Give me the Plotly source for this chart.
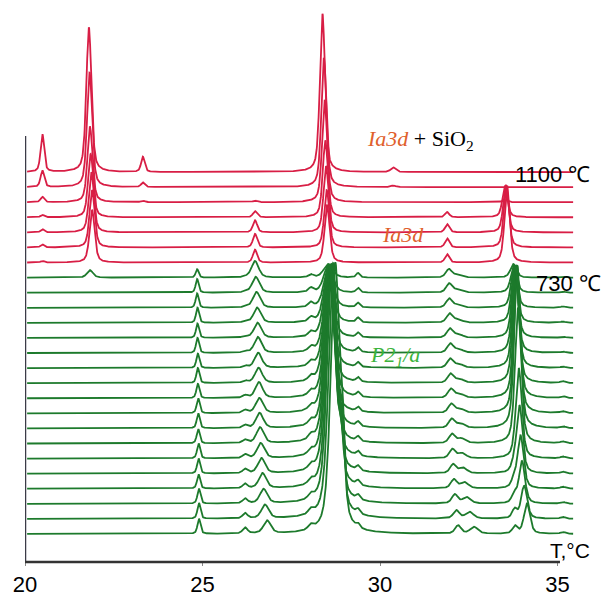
import numpy as np
import plotly.graph_objects as go

# ---------------- data ----------------
# scan range (axis units)
x_start, x_end = 20.06, 35.44
tick_vals = [20, 25, 30, 35]
tick_text = ["20", "25", "30", "35"]

# Green patterns (P2_1/a), bottom (index 0) -> top (730 °C, index 17)
# each reflection: centres, heights (in units of one trace step), half width
g_2183_c = [21.83] * 18
g_2183_h = [0] * 17 + [0.5]
g_2183_w = 0.10

g_2487_c = [24.90, 24.90, 24.90, 24.89, 24.89, 24.89, 24.88, 24.88, 24.88,
            24.87, 24.87, 24.87, 24.86, 24.86, 24.86, 24.85, 24.85, 24.85]
g_2487_h = [1.0, 1.05, 1.0, 0.95, 1.0, 1.0, 0.95, 1.0, 1.0,
            0.95, 1.0, 0.95, 1.0, 0.95, 1.0, 0.95, 0.9, 0.55]
g_2487_w = 0.05

g_2620_c = [26.20] * 18
g_2620_h = [0.4, 0.35, 0.32, 0.3, 0.28, 0.25, 0.22, 0.2, 0.2,
            0.18, 0.15, 0.14, 0.12, 0.1, 0.08, 0.06, 0.05, 0.04]
g_2620_w = 0.08

g_265_c = [26.82, 26.76, 26.72, 26.69, 26.66, 26.64, 26.62, 26.61, 26.60,
           26.59, 26.58, 26.57, 26.56, 26.55, 26.54, 26.52, 26.50, 26.48]
g_265_h = [0.85, 0.9, 0.95, 1.0, 1.0, 1.0, 1.05, 1.0, 1.0,
           1.05, 1.0, 1.0, 1.05, 1.0, 1.0, 1.05, 1.05, 1.1]
g_265_w = 0.12

g_2805_c = [28.05] * 18
g_2805_h = [0.3] * 17 + [0.2]
g_2805_w = 0.08

g_main_c = [28.74, 28.68, 28.64, 28.62, 28.60, 28.59, 28.58, 28.58, 28.57,
            28.57, 28.56, 28.56, 28.56, 28.55, 28.55, 28.55, 28.54, 28.54]
g_main_h = [17.8, 16.8, 15.8, 14.8, 13.8, 12.8, 11.8, 10.8, 9.8,
            8.8, 7.8, 6.8, 5.8, 4.8, 3.8, 2.8, 1.8, 0.9]
g_main_w = 0.15

g_289_c = [28.95, 28.93, 28.92, 28.90, 28.89, 28.88, 28.87, 28.86, 28.86,
           28.86, 28.86, 28.86, 28.86, 28.86, 28.86, 28.86, 28.86, 28.86]
g_289_h = [4.0, 4.5, 4.0, 3.0, 2.0, 1.2, 0.8, 0.5] + [0] * 10
g_289_w = 0.07

g_2938_c = [29.38] * 18
g_2938_h = [0.25] + [0.3] * 17
g_2938_w = 0.06

g_32a_c = [32.20, 32.15, 32.11, 32.08, 32.06, 32.04, 32.03, 32.02, 32.01,
           32.00, 31.99, 31.98, 31.98, 31.97, 31.96, 31.95, 31.95, 31.94]
g_32a_h = [0.55, 0.55] + [0.6] * 15 + [0.55]
g_32a_w = 0.10

g_32b_c = [32.65, 32.52, 32.44, 32.38, 32.34, 32.31, 32.29, 32.27, 32.26,
           32.25, 32.24, 32.23, 32.22, 32.21, 32.20, 32.20, 32.19, 32.18]
g_32b_h = [0.45, 0.45, 0.42, 0.4, 0.36, 0.33, 0.3, 0.3, 0.28,
           0.27, 0.26, 0.25, 0.24, 0.23, 0.22, 0.2, 0.2, 0.18]
g_32b_w = 0.13

g_34_c = [34.14, 34.06, 34.00, 33.96, 33.93, 33.91, 33.89, 33.87, 33.86,
          33.85, 33.83, 33.82, 33.81, 33.80, 33.79, 33.78, 33.77, 33.76]
g_34_h = [2.0, 2.2, 2.8, 3.5, 4.5, 6.0, 9.0, 10.8, 9.8,
          8.8, 7.8, 6.8, 5.8, 4.8, 3.8, 2.8, 1.8, 0.9]
g_34_w = 0.10

g_338_c = [33.80, 33.79, 33.78, 33.77, 33.76] + [33.75] * 13
g_338_h = [0.5, 0.6, 0.6, 0.5, 0.4] + [0] * 13
g_338_w = 0.08

g_3515_c = [35.15] * 18
g_3515_h = [0.12] * 11 + [0.08] * 7
g_3515_w = 0.08

# Red patterns (Ia3d), bottom (index 0) -> top (1100 °C, index 6)
r_2049_c = [20.49] * 7
r_2049_h = [0.1, 0.2, 0.2, 0.15, 0.35, 1.1, 2.5]
r_2049_w = 0.06

r_218_c = [21.89, 21.89, 21.87, 21.85, 21.83, 21.82, 21.80]
r_218_h = [3.5, 3.8, 4.0, 4.2, 5.0, 7.6, 9.6]
r_218_w = 0.085

r_2332_c = [23.32] * 7
r_2332_h = [0, 0, 0, 0, 0.1, 0.3, 1.0]
r_2332_w = 0.06

r_2648_c = [26.48] * 7
r_2648_h = [0.85, 0.9, 0.8, 0.4, 0.1, 0, 0]
r_2648_w = 0.07

r_285_c = [28.51, 28.50, 28.48, 28.46, 28.44, 28.42, 28.38]
r_285_h = [3.8, 3.8, 4.4, 5.1, 6.8, 8.55, 10.5]
r_285_w = 0.085

r_3037_c = [30.37] * 7
r_3037_h = [0, 0, 0, 0, 0, 0.1, 0.3]
r_3037_w = 0.08

r_3189_c = [31.89] * 7
r_3189_h = [0.55, 0.6, 0.55, 0.35, 0.05, 0, 0]
r_3189_w = 0.07

r_3355_c = [33.58, 33.56, 33.54, 33.52, 33.52, 33.52, 33.52]
r_3355_h = [5.1, 4.1, 3.1, 2.1, 0.15, 0, 0]
r_3355_w = 0.085

green_refl = [
    (g_2183_c, g_2183_h, g_2183_w), (g_2487_c, g_2487_h, g_2487_w),
    (g_2620_c, g_2620_h, g_2620_w), (g_265_c, g_265_h, g_265_w),
    (g_2805_c, g_2805_h, g_2805_w), (g_main_c, g_main_h, g_main_w),
    (g_289_c, g_289_h, g_289_w), (g_2938_c, g_2938_h, g_2938_w),
    (g_32a_c, g_32a_h, g_32a_w), (g_32b_c, g_32b_h, g_32b_w),
    (g_34_c, g_34_h, g_34_w), (g_338_c, g_338_h, g_338_w),
    (g_3515_c, g_3515_h, g_3515_w),
]
red_refl = [
    (r_2049_c, r_2049_h, r_2049_w), (r_218_c, r_218_h, r_218_w),
    (r_2332_c, r_2332_h, r_2332_w), (r_2648_c, r_2648_h, r_2648_w),
    (r_285_c, r_285_h, r_285_w), (r_3037_c, r_3037_h, r_3037_w),
    (r_3189_c, r_3189_h, r_3189_w), (r_3355_c, r_3355_h, r_3355_w),
]

# ---------------- rendering ----------------
GREEN = "#1d7a2c"
RED = "#d81e45"
x = np.linspace(x_start, x_end, 1700)


def profile(refls, j):
    y = np.zeros_like(x)
    for c, h, w in refls:
        if h[j] <= 0:
            continue
        u = (x - c[j]) / w
        y += h[j] * (0.5 / (1 + u * u) + 0.5 * np.exp(-np.log(2) * u * u))
    return y


fig = go.Figure()
n_green = len(g_main_h)
n_red = len(r_285_h)
for j in range(n_green):
    fig.add_trace(go.Scatter(x=x, y=profile(green_refl, j) + j, mode="lines",
                             line=dict(color=GREEN, width=1.8), hoverinfo="skip",
                             showlegend=False))
for j in range(n_red):
    fig.add_trace(go.Scatter(x=x, y=profile(red_refl, j) + n_green + j, mode="lines",
                             line=dict(color=RED, width=1.8), hoverinfo="skip",
                             showlegend=False))

SANS = "Liberation Sans, Arial, sans-serif"
SERIF = "Liberation Serif, Times New Roman, serif"

# the page adds an 8 px body margin, so the figure is 8 px smaller each way
fig.update_layout(
    width=603, height=588,
    margin=dict(l=17, r=36, t=0, b=34, autoexpand=False),
    paper_bgcolor="white", plot_bgcolor="white",
    xaxis=dict(range=[20, 35.493], tickvals=tick_vals, ticktext=tick_text,
               ticks="outside", ticklen=3, tickcolor="#888", tickwidth=1,
               showline=False, showgrid=False, zeroline=False, automargin=False,
               tickfont=dict(family=SANS, size=22, color="black")),
    yaxis=dict(range=[-1.857, 34.88], visible=False, automargin=False),
    shapes=[
        dict(type="line", xref="x", yref="paper", x0=20, x1=20, y0=0, y1=0.769,
             line=dict(color="#3b3b47", width=2.5)),
        dict(type="line", xref="x", yref="paper", x0=20, x1=35.07, y0=0, y1=0,
             line=dict(color="#333333", width=2.5)),
    ],
    annotations=[
        dict(x=1.03, xref="paper", y=-1.1, yref="y", text="T,°C", showarrow=False,
             font=dict(family=SANS, size=21, color="black")),
        dict(x=31.13, y=26.13, xref="x", yref="y", showarrow=False,
             text="<i><span style='color:#e0602c'>Ia3d</span></i> + SiO<sub>2</sub>",
             font=dict(family=SERIF, size=22, color="black")),
        dict(x=34.87, y=23.87, xref="x", yref="y", showarrow=False, text="1100 ℃",
             font=dict(family=SANS, size=22, color="black")),
        dict(x=30.65, y=19.89, xref="x", yref="y", showarrow=False, text="<i>Ia3d</i>",
             font=dict(family=SERIF, size=22, color="#e0602c")),
        dict(x=35.30, y=16.64, xref="x", yref="y", showarrow=False, text="730 ℃",
             font=dict(family=SANS, size=22, color="black")),
        dict(x=30.42, y=11.8, xref="x", yref="y", showarrow=False,
             text="<i>P2<sub>1</sub>/a</i>",
             font=dict(family=SERIF, size=22, color="#3cb43c")),
    ],
)

fig.write_html("out.html")
